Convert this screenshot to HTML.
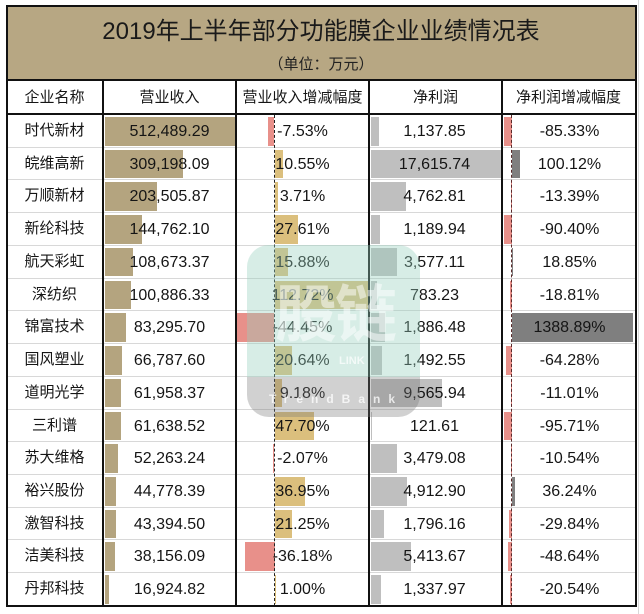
<!DOCTYPE html>
<html><head><meta charset="utf-8">
<style>
*{margin:0;padding:0;box-sizing:border-box}
html,body{width:644px;height:614px;background:#fff;overflow:hidden}
body{position:relative;font-family:"Liberation Sans","Noto Sans CJK SC",sans-serif;color:#151515}
.abs{position:absolute}
.band{left:7px;top:6px;width:628px;height:74px;background:#b7a783}
.title{left:7px;top:14px;width:628px;text-align:center;font-size:24px;line-height:36px;font-family:"Liberation Sans","Noto Sans CJK SC",sans-serif;color:#1a1a1a}
.sub{left:7px;top:54px;width:628px;text-align:center;font-size:15px;line-height:22px;color:#222}
.hd{top:81px;height:33px;line-height:33px;text-align:center;font-size:15px;font-family:"Liberation Sans","Noto Sans CJK SC",sans-serif}
.r{position:absolute;left:7px;width:628px;height:32.73px;border-bottom:1px solid #d8d8d8}
.r>div{position:absolute}
.n{left:0;width:95px;top:0;height:32px;line-height:32px;text-align:center;font-size:15px}
.t{top:0;height:32px;line-height:33px;text-align:center;font-size:16px;font-family:"Liberation Sans",sans-serif;width:133px}
.t2{left:96px}.t3{left:229px}.t4{left:361px}.t5{left:496px}
.b{top:2px;height:28.5px}
.b2{left:98px;background:#b4a47f}
.b3p{background:#dbbf7d}.bn{background:#e8908a}
.b4{left:364px;background:#bfbfbf}
.b5p{background:#7f7f7f}
.vl{top:80px;width:2px;height:526px;background:#111}
</style></head><body>
<div class="abs band"></div>
<div class="abs title">2019年上半年部分功能膜企业业绩情况表</div>
<div class="abs sub">（单位：万元）</div>
<div class="abs" style="left:7px;top:79px;width:628px;height:2px;background:#111"></div>
<div class="abs hd" style="left:7px;width:95px">企业名称</div>
<div class="abs hd" style="left:103px;width:133px">营业收入</div>
<div class="abs hd" style="left:236px;width:133px">营业收入增减幅度</div>
<div class="abs hd" style="left:369px;width:133px">净利润</div>
<div class="abs hd" style="left:502px;width:133px">净利润增减幅度</div>
<div class="abs" style="left:7px;top:113px;width:628px;height:2px;background:#111"></div>

<div class="r" style="top:115px"><div class="b b2" style="width:130px"></div><div class="b bn" style="left:261.3px;width:6.2px"></div><div class="b b4" style="width:8.4px"></div><div class="b bn" style="left:497.4px;width:7.3px"></div>
<div class="n">时代新材</div><div class="t t2">512,489.29</div><div class="t t3">-7.53%</div><div class="t t4">1,137.85</div><div class="t t5">-85.33%</div></div>

<div class="r" style="top:147.73px"><div class="b b2" style="width:78.4px"></div><div class="b b3p" style="left:267.5px;width:8.8px"></div><div class="b b4" style="width:130px"></div><div class="b b5p" style="left:504.7px;width:8.6px"></div>
<div class="n">皖维高新</div><div class="t t2">309,198.09</div><div class="t t3">10.55%</div><div class="t t4">17,615.74</div><div class="t t5">100.12%</div></div>

<div class="r" style="top:180.46px"><div class="b b2" style="width:51.6px"></div><div class="b b3p" style="left:267.5px;width:3.1px"></div><div class="b b4" style="width:35.1px"></div><div class="b bn" style="left:503.5px;width:1.2px"></div>
<div class="n">万顺新材</div><div class="t t2">203,505.87</div><div class="t t3">3.71%</div><div class="t t4">4,762.81</div><div class="t t5">-13.39%</div></div>

<div class="r" style="top:213.19px"><div class="b b2" style="width:36.7px"></div><div class="b b3p" style="left:267.5px;width:23px"></div><div class="b b4" style="width:8.8px"></div><div class="b bn" style="left:496.9px;width:7.8px"></div>
<div class="n">新纶科技</div><div class="t t2">144,762.10</div><div class="t t3">27.61%</div><div class="t t4">1,189.94</div><div class="t t5">-90.40%</div></div>

<div class="r" style="top:245.92px"><div class="b b2" style="width:27.6px"></div><div class="b b3p" style="left:267.5px;width:13.5px"></div><div class="b b4" style="width:26.4px"></div><div class="b b5p" style="left:504.7px;width:1.6px"></div>
<div class="n">航天彩虹</div><div class="t t2">108,673.37</div><div class="t t3">15.88%</div><div class="t t4">3,577.11</div><div class="t t5">18.85%</div></div>

<div class="r" style="top:278.65px"><div class="b b2" style="width:25.6px"></div><div class="b b3p" style="left:267.5px;width:93px"></div><div class="b b4" style="width:5.8px"></div><div class="b bn" style="left:503.1px;width:1.6px"></div>
<div class="n">深纺织</div><div class="t t2">100,886.33</div><div class="t t3">112.72%</div><div class="t t4">783.23</div><div class="t t5">-18.81%</div></div>

<div class="r" style="top:311.38px"><div class="b b2" style="width:21.1px"></div><div class="b bn" style="left:230.3px;width:37px"></div><div class="b b4" style="width:13.9px"></div><div class="b b5p" style="left:504.7px;width:121px"></div>
<div class="n">锦富技术</div><div class="t t2">83,295.70</div><div class="t t3">-44.45%</div><div class="t t4">1,886.48</div><div class="t t5">1388.89%</div></div>

<div class="r" style="top:344.11px"><div class="b b2" style="width:16.9px"></div><div class="b b3p" style="left:267.5px;width:17.2px"></div><div class="b b4" style="width:11px"></div><div class="b bn" style="left:499.2px;width:5.5px"></div>
<div class="n">国风塑业</div><div class="t t2">66,787.60</div><div class="t t3">20.64%</div><div class="t t4">1,492.55</div><div class="t t5">-64.28%</div></div>

<div class="r" style="top:376.84px"><div class="b b2" style="width:15.7px"></div><div class="b b3p" style="left:267.5px;width:7.6px"></div><div class="b b4" style="width:70.6px"></div><div class="b bn" style="left:503.7px;width:1px"></div>
<div class="n">道明光学</div><div class="t t2">61,958.37</div><div class="t t3">9.18%</div><div class="t t4">9,565.94</div><div class="t t5">-11.01%</div></div>

<div class="r" style="top:409.57px"><div class="b b2" style="width:15.6px"></div><div class="b b3p" style="left:267.5px;width:39.6px"></div><div class="b b4" style="width:0.9px"></div><div class="b bn" style="left:496.5px;width:8.2px"></div>
<div class="n">三利谱</div><div class="t t2">61,638.52</div><div class="t t3">47.70%</div><div class="t t4">121.61</div><div class="t t5">-95.71%</div></div>

<div class="r" style="top:442.3px"><div class="b b2" style="width:13.3px"></div><div class="b bn" style="left:265.7px;width:1.8px"></div><div class="b b4" style="width:25.7px"></div><div class="b bn" style="left:503.8px;width:0.9px"></div>
<div class="n">苏大维格</div><div class="t t2">52,263.24</div><div class="t t3">-2.07%</div><div class="t t4">3,479.08</div><div class="t t5">-10.54%</div></div>

<div class="r" style="top:475.03px"><div class="b b2" style="width:11.4px"></div><div class="b b3p" style="left:267.5px;width:30.7px"></div><div class="b b4" style="width:36.3px"></div><div class="b b5p" style="left:504.7px;width:3.2px"></div>
<div class="n">裕兴股份</div><div class="t t2">44,778.39</div><div class="t t3">36.95%</div><div class="t t4">4,912.90</div><div class="t t5">36.24%</div></div>

<div class="r" style="top:507.76px"><div class="b b2" style="width:11px"></div><div class="b b3p" style="left:267.5px;width:17.6px"></div><div class="b b4" style="width:13.3px"></div><div class="b bn" style="left:502.1px;width:2.6px"></div>
<div class="n">激智科技</div><div class="t t2">43,394.50</div><div class="t t3">21.25%</div><div class="t t4">1,796.16</div><div class="t t5">-29.84%</div></div>

<div class="r" style="top:540.49px"><div class="b b2" style="width:9.7px"></div><div class="b bn" style="left:237.5px;width:30px"></div><div class="b b4" style="width:40px"></div><div class="b bn" style="left:500.5px;width:4.2px"></div>
<div class="n">洁美科技</div><div class="t t2">38,156.09</div><div class="t t3">-36.18%</div><div class="t t4">5,413.67</div><div class="t t5">-48.64%</div></div>

<div class="r" style="top:573.22px;border-bottom:none"><div class="b b2" style="width:4.3px"></div><div class="b b3p" style="left:267.5px;width:0.8px"></div><div class="b b4" style="width:9.9px"></div><div class="b bn" style="left:502.9px;width:1.8px"></div>
<div class="n">丹邦科技</div><div class="t t2">16,924.82</div><div class="t t3">1.00%</div><div class="t t4">1,337.97</div><div class="t t5">-20.54%</div></div>

<!-- dashed axes -->
<div class="abs" style="left:274px;top:115px;height:491px;border-left:1px dashed #222"></div>
<div class="abs" style="left:511px;top:115px;height:491px;border-left:1px dashed #5a2a2a"></div>

<!-- column dividers -->
<div class="abs vl" style="left:102px"></div>
<div class="abs vl" style="left:235px"></div>
<div class="abs vl" style="left:368px"></div>
<div class="abs vl" style="left:501px"></div>

<!-- outer border -->
<div class="abs" style="left:6px;top:5px;width:631px;height:602px;border:2px solid #111"></div>
<div class="abs" style="left:638px;top:0;width:1px;height:614px;background:#d8d8d8"></div>

<!-- watermark -->
<div class="abs" style="left:247px;top:245px;width:173px;height:172px;border-radius:22px;overflow:hidden">
  <div class="abs" style="left:0;top:0;width:173px;height:132px;background:rgba(150,208,188,0.38)"></div>
  <div class="abs" style="left:0;top:132px;width:173px;height:40px;background:rgba(120,120,120,0.34)"></div>
  <div class="abs" style="left:8px;top:28px;width:160px;text-align:center;font-size:62px;line-height:72px;font-weight:bold;color:rgba(255,255,255,0.5);font-family:'Noto Sans CJK SC',sans-serif;letter-spacing:-2px">股链</div>
  <div class="abs" style="left:92px;top:110px;font-size:11px;font-weight:bold;color:rgba(255,255,255,0.7);font-family:'Liberation Sans',sans-serif">LINK</div>
  <div class="abs" style="left:22px;top:147px;font-size:12px;font-weight:bold;letter-spacing:8px;color:rgba(255,255,255,0.75);font-family:'Liberation Sans',sans-serif">TrendBank</div>
</div>
</body></html>
